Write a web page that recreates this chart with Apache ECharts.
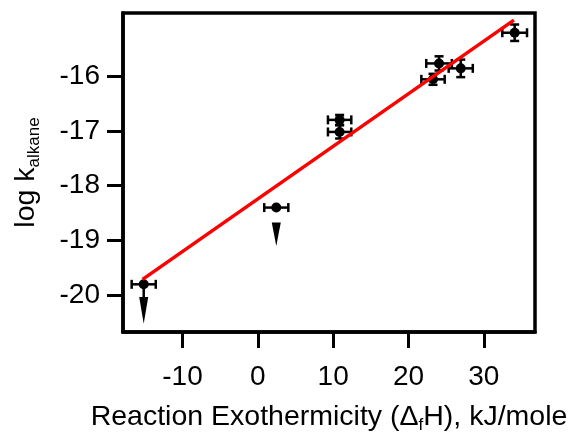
<!DOCTYPE html>
<html><head><meta charset="utf-8">
<script src="https://cdn.jsdelivr.net/npm/echarts@6/dist/echarts.min.js"></script>
<style>html,body{margin:0;padding:0;background:#fff}#c{width:573px;height:432px}</style>
</head><body><div id="c"></div>
<script>
// measured points (x: reaction exothermicity, y: log k)
const xValues = [-15.15, 2.45, 10.86, 10.86, 23.26, 24.06, 26.94, 34.1];
const yValues = [-19.80, -18.40, -16.80, -17.02, -16.06, -15.77, -15.86, -15.21];
const xErrors = [1.6, 1.6, 1.55, 1.55, 1.55, 1.7, 1.6, 1.64];
const yErrors = [0, 0, 0.09, 0.12, 0.1, 0.13, 0.16, 0.15];
// upper-limit arrows
const arrowX = [-15.15, 2.45];
const arrowFrom = [-19.80, -18.67];
const arrowHead = [-20.03, -18.67];
const arrowTip = [-20.52, -19.10];
// linear fit
const fitX = [-15.3, 34.0];
const fitY = [-19.71, -14.98];
// ticks
const xTicks = [-10, 0, 10, 20, 30];
const yTicks = [-20, -19, -18, -17, -16];

const FONT = 'Liberation Sans';
const chart = echarts.init(document.getElementById('c'), null, {renderer: 'canvas'});

function errItem(params, api) {
  const x = api.value(0), y = api.value(1), xe = api.value(2), ye = api.value(3);
  const c = api.coord([x, y]);
  const st = {stroke: '#000', lineWidth: 2.5};
  const ch = [];
  const cap = 4.5;
  if (xe > 0) {
    const l = api.coord([x - xe, y]), r = api.coord([x + xe, y]);
    ch.push({type: 'line', shape: {x1: l[0], y1: c[1], x2: r[0], y2: c[1]}, style: st});
    ch.push({type: 'line', shape: {x1: l[0], y1: c[1] - cap, x2: l[0], y2: c[1] + cap}, style: st});
    ch.push({type: 'line', shape: {x1: r[0], y1: c[1] - cap, x2: r[0], y2: c[1] + cap}, style: st});
  }
  if (ye > 0) {
    const t = api.coord([x, y + ye]), b = api.coord([x, y - ye]);
    ch.push({type: 'line', shape: {x1: c[0], y1: t[1], x2: c[0], y2: b[1]}, style: st});
    ch.push({type: 'line', shape: {x1: c[0] - cap, y1: t[1], x2: c[0] + cap, y2: t[1]}, style: st});
    ch.push({type: 'line', shape: {x1: c[0] - cap, y1: b[1], x2: c[0] + cap, y2: b[1]}, style: st});
  }
  return {type: 'group', children: ch};
}

function arrowItem(params, api) {
  const x = api.value(0), yf = api.value(1), yh = api.value(2), yt = api.value(3);
  const f = api.coord([x, yf]), h = api.coord([x, yh]), t = api.coord([x, yt]);
  const ch = [];
  if (h[1] - f[1] > 0.5) {
    ch.push({type: 'line', shape: {x1: f[0], y1: f[1], x2: h[0], y2: h[1] + 1}, style: {stroke: '#000', lineWidth: 2.5}});
  }
  ch.push({type: 'polygon', shape: {points: [[h[0] - 4.5, h[1]], [h[0] + 4.5, h[1]], [t[0], t[1]]]}, style: {fill: '#000'}});
  return {type: 'group', children: ch};
}

const option = {
  animation: false,
  backgroundColor: '#fff',
  grid: {left: 123, right: 38, top: 13, bottom: 100, outerBoundsMode: 'none', containLabel: false,
         show: true, borderColor: '#000', borderWidth: 3.5, backgroundColor: 'transparent'},
  xAxis: {
    type: 'value', min: -17.9, max: 36.8,
    splitLine: {show: false},
    axisLine: {show: true, onZero: false, lineStyle: {color: '#000', width: 3.5}},
    axisTick: {show: true, customValues: xTicks, length: 16, lineStyle: {color: '#000', width: 3}},
    axisLabel: {customValues: xTicks, fontSize: 28, fontFamily: FONT, color: '#000', margin: 31},
    name: 'Reaction Exothermicity (Δ{sub|f}H), kJ/mole',
    nameLocation: 'middle', nameGap: 68,
    nameTextStyle: {fontSize: 28.5, fontFamily: FONT, color: '#000', lineHeight: 34,
      rich: {sub: {fontSize: 17, fontFamily: FONT, color: '#000', lineHeight: 12, verticalAlign: 'bottom'}}}
  },
  yAxis: {
    type: 'value', min: -20.67, max: -14.85,
    splitLine: {show: false},
    axisLine: {show: true, onZero: false, lineStyle: {color: '#000', width: 3.5}},
    axisTick: {show: true, customValues: yTicks, length: 16, lineStyle: {color: '#000', width: 3}},
    axisLabel: {customValues: yTicks, fontSize: 28, fontFamily: FONT, color: '#000', margin: 23},
    name: 'log k{sub|alkane}',
    nameLocation: 'middle', nameGap: 80, nameRotate: 90,
    nameTextStyle: {fontSize: 28.5, fontFamily: FONT, color: '#000', lineHeight: 34,
      rich: {sub: {fontSize: 17, fontFamily: FONT, color: '#000', lineHeight: 12, verticalAlign: 'bottom'}}}
  },
  series: [
    {type: 'custom', renderItem: errItem, z: 3,
     encode: {x: 0, y: 1},
     data: xValues.map((x, i) => [x, yValues[i], xErrors[i], yErrors[i]])},
    {type: 'custom', renderItem: arrowItem, z: 3,
     encode: {x: 0, y: [1, 3]},
     data: arrowX.map((x, i) => [x, arrowFrom[i], arrowHead[i], arrowTip[i]])},
    {type: 'scatter', symbol: 'circle', symbolSize: 10, itemStyle: {color: '#000', opacity: 1}, z: 4,
     data: xValues.map((x, i) => [x, yValues[i]])},
    {type: 'line', showSymbol: false, lineStyle: {color: '#ff0000', width: 3.5}, z: 5,
     data: fitX.map((x, i) => [x, fitY[i]])}
  ]
};
chart.setOption(option);
</script>
</body></html>
